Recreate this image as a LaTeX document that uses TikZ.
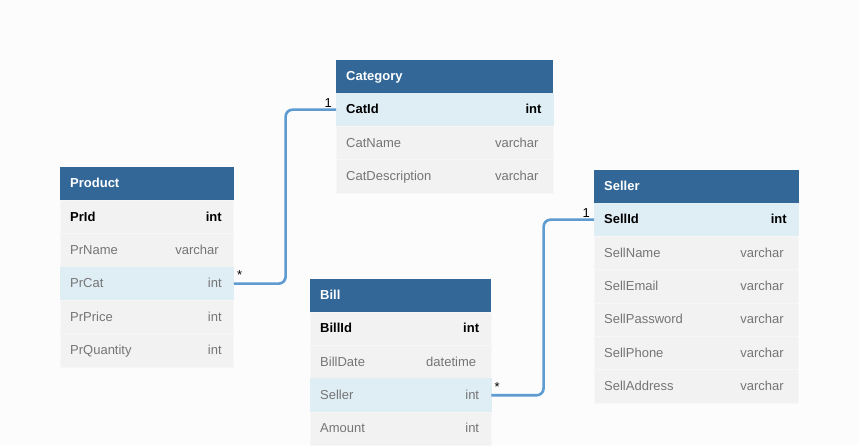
\documentclass[tikz,border=0pt]{standalone}
\usepackage{fontspec}
\setmainfont{Liberation Sans}
\definecolor{bg}{RGB}{252,252,252}
\definecolor{hdr}{RGB}{50,103,152}
\definecolor{rowc}{RGB}{242,242,242}
\definecolor{rowhl}{RGB}{223,237,245}
\definecolor{sepc}{RGB}{247,247,247}
\definecolor{txtg}{RGB}{117,117,117}
\definecolor{linkc}{RGB}{94,155,209}
\tikzset{
  hdrbox/.style={rectangle, fill=hdr, draw=none, inner sep=0pt, minimum width=#1, minimum height=32.7pt, anchor=north west},
  rowbox/.style={rectangle, fill=rowc, draw=sepc, line width=0.6pt, inner sep=0pt, minimum width=#1, minimum height=33.3pt, anchor=north west},
  hl/.style={fill=rowhl, draw=rowhl},
  txt/.style={inner sep=0pt, font=\fontsize{13}{15}\selectfont, text height=10pt, text depth=1.6pt},
  hdrtxt/.style={txt, text=white, font=\fontsize{13}{15}\selectfont\bfseries, anchor=west},
  plain/.style={txt, text=txtg},
  pk/.style={txt, text=black, font=\fontsize{13}{15}\selectfont\bfseries},
  link/.style={draw=linkc, line width=2.6pt, rounded corners=7pt},
  card/.style={inner sep=0pt, font=\fontsize{13}{15}\selectfont, text=black},
}
% #1 name, #2 x, #3 y-top, #4 width, #5 box style, #6 text style, #7 field, #8 type, #9 type right pad
\newcommand{\erow}[9]{%
  \node[rowbox=#4, #5] (#1) at (#2,#3) {};
  \node[#6, anchor=west] (#1-n) at ([xshift=10pt]#1.west) {#7};
  \node[#6, anchor=east] (#1-t) at ([xshift=-#9pt]#1.east) {#8};
}
\newcommand{\ehead}[5]{%
  \node[hdrbox=#4] (#1) at (#2,#3) {};
  \node[hdrtxt] (#1-n) at ([xshift=10pt]#1.west) {#5};
}
\begin{document}
\begin{tikzpicture}[x=1pt,y=-1pt]
\fill[bg] (0,0) rectangle (858,445);
\useasboundingbox (0,0) rectangle (858,445);

% Category
\ehead{cat}{336}{60}{217pt}{Category}
\erow{catid}{336}{92.7}{217pt}{hl}{pk}{CatId}{int}{12}
\erow{catname}{336}{126}{217pt}{}{plain}{CatName}{varchar}{15}
\erow{catdesc}{336}{159.3}{217pt}{}{plain}{CatDescription}{varchar}{15}

% Product
\ehead{prod}{60}{166.7}{173.3pt}{Product}
\erow{prid}{60}{200}{173.3pt}{}{pk}{PrId}{int}{12}
\erow{prname}{60}{233.3}{173.3pt}{}{plain}{PrName}{varchar}{15}
\erow{prcat}{60}{266.7}{173.3pt}{hl}{plain}{PrCat}{int}{12}
\erow{prprice}{60}{300}{173.3pt}{}{plain}{PrPrice}{int}{12}
\erow{prqty}{60}{333.3}{173.3pt}{}{plain}{PrQuantity}{int}{12}

% Bill
\ehead{bill}{310}{279}{180.7pt}{Bill}
\erow{billid}{310}{311.7}{180.7pt}{}{pk}{BillId}{int}{12}
\erow{billdate}{310}{345}{180.7pt}{}{plain}{BillDate}{datetime}{15}
\erow{bseller}{310}{378.3}{180.7pt}{hl}{plain}{Seller}{int}{12}
\erow{amount}{310}{411.7}{180.7pt}{}{plain}{Amount}{int}{12}

% Seller
\ehead{sell}{594}{170}{204.3pt}{Seller}
\erow{sellid}{594}{202.7}{204.3pt}{hl}{pk}{SellId}{int}{12}
\erow{sellname}{594}{236}{204.3pt}{}{plain}{SellName}{varchar}{15}
\erow{sellemail}{594}{269.3}{204.3pt}{}{plain}{SellEmail}{varchar}{15}
\erow{sellpw}{594}{302.7}{204.3pt}{}{plain}{SellPassword}{varchar}{15}
\erow{sellphone}{594}{336}{204.3pt}{}{plain}{SellPhone}{varchar}{15}
\erow{selladdr}{594}{369.3}{204.3pt}{}{plain}{SellAddress}{varchar}{15}

% Connectors
\draw[link] (prcat.east) -- ++(51.7,0) |- (catid.west);
\draw[link] (bseller.east) -- ++(52.3,0) |- (sellid.west);

% Cardinalities
\node[card, anchor=base east] (c1) at ([xshift=-4pt,yshift=2.6pt]catid.west) {1};
\node[card, anchor=base west] (c2) at ([xshift=3pt,yshift=4pt]prcat.east) {*};
\node[card, anchor=base east] (c3) at ([xshift=-4pt,yshift=2.6pt]sellid.west) {1};
\node[card, anchor=base west] (c4) at ([xshift=3pt,yshift=4pt]bseller.east) {*};
\end{tikzpicture}
\end{document}
